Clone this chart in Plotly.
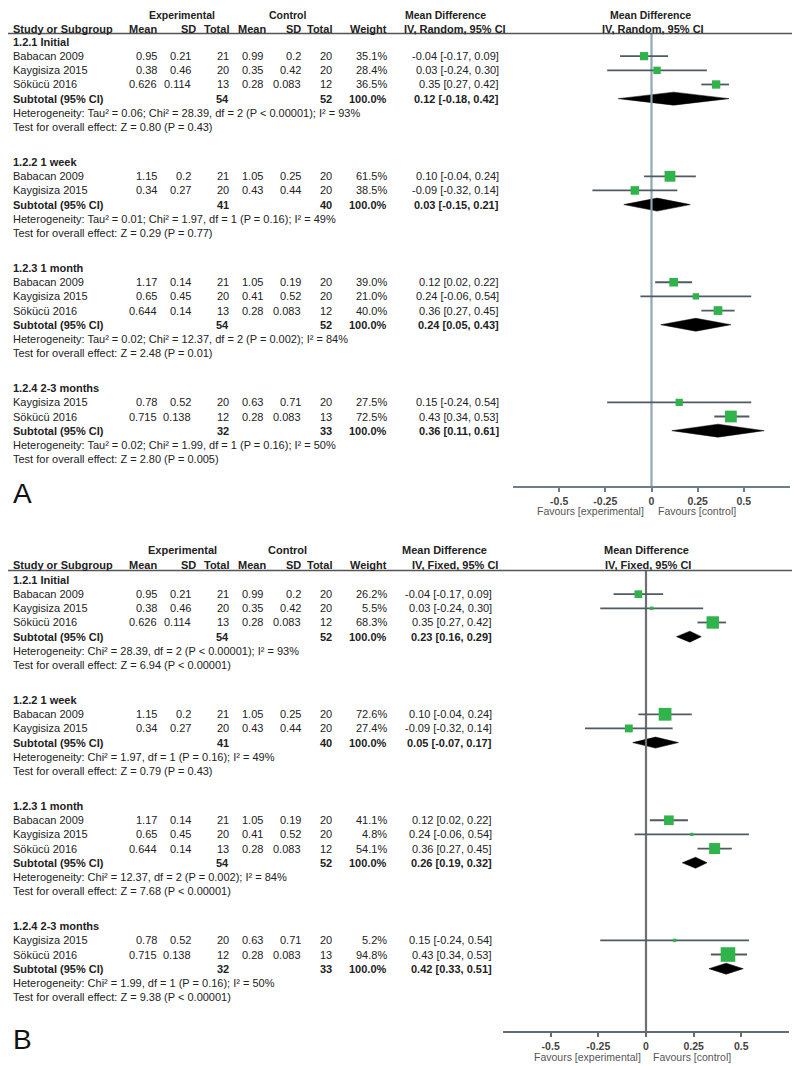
import plotly.graph_objects as go

# ---------------- data ----------------
GROUP_TITLES = ["1.2.1 Initial", "1.2.2 1 week", "1.2.3 1 month", "1.2.4 2-3 months"]
STUDY_GROUP = [0, 0, 0, 1, 1, 2, 2, 2, 3, 3]
STUDY_NAMES = ["Babacan 2009", "Kaygisiza 2015", "Sökücü 2016",
               "Babacan 2009", "Kaygisiza 2015",
               "Babacan 2009", "Kaygisiza 2015", "Sökücü 2016",
               "Kaygisiza 2015", "Sökücü 2016"]
EXP_MEAN = [0.95, 0.38, 0.626, 1.15, 0.34, 1.17, 0.65, 0.644, 0.78, 0.715]
EXP_SD = [0.21, 0.46, 0.114, 0.2, 0.27, 0.14, 0.45, 0.14, 0.52, 0.138]
EXP_N = [21, 20, 13, 21, 20, 21, 20, 13, 20, 12]
CTL_MEAN = [0.99, 0.35, 0.28, 1.05, 0.43, 1.05, 0.41, 0.28, 0.63, 0.28]
CTL_SD = [0.2, 0.42, 0.083, 0.25, 0.44, 0.19, 0.52, 0.083, 0.71, 0.083]
CTL_N = [20, 20, 12, 20, 20, 20, 20, 12, 20, 13]
MD = [-0.04, 0.03, 0.35, 0.10, -0.09, 0.12, 0.24, 0.36, 0.15, 0.43]
MD_LO = [-0.17, -0.24, 0.27, -0.04, -0.32, 0.02, -0.06, 0.27, -0.24, 0.34]
MD_HI = [0.09, 0.30, 0.42, 0.24, 0.14, 0.22, 0.54, 0.45, 0.54, 0.53]
WEIGHT_RANDOM = [35.1, 28.4, 36.5, 61.5, 38.5, 39.0, 21.0, 40.0, 27.5, 72.5]
WEIGHT_FIXED = [26.2, 5.5, 68.3, 72.6, 27.4, 41.1, 4.8, 54.1, 5.2, 94.8]

SUB_EXP_N = [54, 41, 54, 32]
SUB_CTL_N = [52, 40, 52, 33]
SUB_RANDOM_MD = [0.12, 0.03, 0.24, 0.36]
SUB_RANDOM_LO = [-0.18, -0.15, 0.05, 0.11]
SUB_RANDOM_HI = [0.42, 0.21, 0.43, 0.61]
SUB_FIXED_MD = [0.23, 0.05, 0.26, 0.42]
SUB_FIXED_LO = [0.16, -0.07, 0.19, 0.33]
SUB_FIXED_HI = [0.29, 0.17, 0.32, 0.51]

TAU2 = ["0.06", "0.01", "0.02", "0.02"]
CHI2 = ["28.39", "1.97", "12.37", "1.99"]
DF = [2, 1, 2, 1]
HET_P = ["&lt; 0.00001", "= 0.16", "= 0.002", "= 0.16"]
I2 = [93, 49, 84, 50]
Z_RANDOM = ["0.80", "0.29", "2.48", "2.80"]
P_RANDOM = ["= 0.43", "= 0.77", "= 0.01", "= 0.005"]
Z_FIXED = ["6.94", "0.79", "7.68", "9.38"]
P_FIXED = ["&lt; 0.00001", "= 0.43", "&lt; 0.00001", "&lt; 0.00001"]

TICK_VALUES = [-0.5, -0.25, 0, 0.25, 0.5]
TICK_LABELS = ["-0.5", "-0.25", "0", "0.25", "0.5"]

# ---------------- layout constants ----------------
PAGE_MARGIN = 8          # default body margin of the html page
W, H = 800 - PAGE_MARGIN, 1066 - PAGE_MARGIN
ROW = 14.16
GAP = 21.0
FONT = "Liberation Sans, Arial, sans-serif"
FS = 11
TXT = "#222222"
GREEN = "#2fb34a"


def px_x(x):
    return (x - PAGE_MARGIN) / W


def px_y(y):
    return 1 - (y - PAGE_MARGIN) / H


fig = go.Figure()
annotations = []
shapes = []


def ann(x, y, text, anchor="left", size=FS, bold=False, color=TXT):
    annotations.append(dict(
        x=px_x(x), y=px_y(y), xref="paper", yref="paper",
        text=("<b>%s</b>" % text) if bold else text,
        showarrow=False, xanchor=anchor, yanchor="middle", borderpad=0,
        font=dict(family=FONT, size=size, color=color)))


def draw_panel(cfg):
    top = cfg["top"]
    xa, ya = cfg["xaxis"], cfg["yaxis"]
    cols = dict(name=12, em=158, esd=192, en=230, cm=264, csd=302, cn=333, w=388, eff=cfg["eff_x"])
    # headers
    h1 = top - cfg["h1_off"]
    hy = top - cfg["h2_off"]
    hs = cfg["h1_size"]
    ann(182, h1, "Experimental", "center", size=hs, bold=True)
    ann(287, h1, "Control", "center", size=hs, bold=True)
    ann(cols["name"], hy, "Study or Subgroup", "left", bold=True)
    ann(cols["em"], hy, "Mean", "right", bold=True)
    ann(197, hy, "SD", "right", bold=True)
    ann(cols["en"], hy, "Total", "right", bold=True)
    ann(267, hy, "Mean", "right", bold=True)
    ann(cols["csd"], hy, "SD", "right", bold=True)
    ann(cols["cn"], hy, "Total", "right", bold=True)
    ann(cols["w"], hy, "Weight", "right", bold=True)
    ann(cfg["md_c1"], h1, "Mean Difference", "center", size=hs, bold=True)
    ann(cfg["md_c2"], hy, cfg["method"], "center", bold=True)
    ann(cfg["pl_c1"], h1, "Mean Difference", "center", size=hs, bold=True)
    ann(cfg["pl_c2"], hy, cfg["method"], "center", bold=True)
    line_y = top - cfg["line_off"]
    shapes.append(dict(type="line", xref="paper", yref="paper", x0=px_x(4), x1=1,
                       y0=px_y(line_y), y1=px_y(line_y),
                       line=dict(color="#555555", width=1.6)))

    ci_x, ci_y = [], []
    sq_x, sq_y, sq_s = [], [], []
    y = top
    weights = cfg["weights"]
    for g, title in enumerate(GROUP_TITLES):
        ann(cols["name"], y, title, "left", bold=True)
        idx = [i for i, gg in enumerate(STUDY_GROUP) if gg == g]
        for k, i in enumerate(idx):
            yy = y + ROW * (k + 1)
            ann(cols["name"], yy, STUDY_NAMES[i])
            ann(cols["em"], yy, str(EXP_MEAN[i]), "right")
            ann(cols["esd"], yy, str(EXP_SD[i]), "right")
            ann(cols["en"], yy, str(EXP_N[i]), "right")
            ann(cols["cm"], yy, str(CTL_MEAN[i]), "right")
            ann(cols["csd"], yy, str(CTL_SD[i]), "right")
            ann(cols["cn"], yy, str(CTL_N[i]), "right")
            ann(cols["w"], yy, "%.1f%%" % weights[i], "right")
            ann(cols["eff"], yy, "%.2f [%.2f, %.2f]" % (MD[i], MD_LO[i], MD_HI[i]), "right")
            ci_x += [MD_LO[i], MD_HI[i], None]
            ci_y += [yy, yy, None]
            sq_x.append(MD[i])
            sq_y.append(yy)
            sq_s.append(cfg["sq_k"] * weights[i] ** 0.5)
        n = len(idx)
        sy = y + ROW * (n + 1)
        ann(cols["name"], sy, "Subtotal (95% CI)", "left", bold=True)
        ann(cols["en"], sy, str(SUB_EXP_N[g]), "right", bold=True)
        ann(cols["cn"], sy, str(SUB_CTL_N[g]), "right", bold=True)
        ann(cols["w"], sy, "100.0%", "right", bold=True)
        m, lo, hi = cfg["sub_md"][g], cfg["sub_lo"][g], cfg["sub_hi"][g]
        ann(cols["eff"], sy, "%.2f [%.2f, %.2f]" % (m, lo, hi), "right", bold=True)
        d = cfg["dia_h"]
        fig.add_trace(go.Scatter(x=[lo, m, hi, m, lo], y=[sy, sy - d, sy, sy + d, sy],
                                 xaxis=xa, yaxis=ya, mode="lines", fill="toself",
                                 fillcolor="#000000", line=dict(color="#000000", width=0.5),
                                 hoverinfo="skip", showlegend=False))
        ann(cols["name"], sy + ROW, cfg["het"][g], "left")
        ann(cols["name"], sy + 2 * ROW, cfg["test"][g], "left")
        y = sy + 2 * ROW + ROW + GAP

    # zero line
    fig.add_trace(go.Scatter(x=[0, 0], y=[line_y, cfg["axis_y"]], xaxis=xa, yaxis=ya,
                             mode="lines", line=dict(color=cfg["zero_col"], width=2.2),
                             hoverinfo="skip", showlegend=False))
    fig.add_trace(go.Scatter(x=ci_x, y=ci_y, xaxis=xa, yaxis=ya, mode="lines",
                             line=dict(color="#4f5b60", width=1.8),
                             hoverinfo="skip", showlegend=False))
    fig.add_trace(go.Scatter(x=sq_x, y=sq_y, xaxis=xa, yaxis=ya, mode="markers",
                             marker=dict(symbol="square", size=sq_s, color=GREEN, opacity=1,
                                         line=dict(width=0)),
                             hoverinfo="skip", showlegend=False))
    fy = cfg["axis_y"] + cfg["fav_off"]
    ann(cfg["fav_l"], fy, "Favours [experimental]", "right", size=10.5, color="#555555")
    ann(cfg["fav_r"], fy, "Favours [control]", "left", size=10.5, color="#555555")
    ann(12, cfg["letter_y"], cfg["letter"], "left", size=28, color="#111111")


het_a = ["Heterogeneity: Tau² = %s; Chi² = %s, df = %d (P %s); I² = %d%%" % (TAU2[g], CHI2[g], DF[g], HET_P[g], I2[g])
         for g in range(4)]
het_b = ["Heterogeneity: Chi² = %s, df = %d (P %s); I² = %d%%" % (CHI2[g], DF[g], HET_P[g], I2[g])
         for g in range(4)]
test_a = ["Test for overall effect: Z = %s (P %s)" % (Z_RANDOM[g], P_RANDOM[g]) for g in range(4)]
test_b = ["Test for overall effect: Z = %s (P %s)" % (Z_FIXED[g], P_FIXED[g]) for g in range(4)]

# panel A's top header row sits at the page edge, so panel A is nudged down a little
panel_a = dict(top=42, xaxis="x", yaxis="y", eff_x=500, method="IV, Random, 95% CI",
               h1_off=27.5, h2_off=13.5, h1_size=10.5, line_off=8.5,
               md_c1=446, md_c2=455, pl_c1=650, pl_c2=653,
               weights=WEIGHT_RANDOM, sq_k=1.38,
               sub_md=SUB_RANDOM_MD, sub_lo=SUB_RANDOM_LO, sub_hi=SUB_RANDOM_HI, dia_h=6.5,
               het=het_a, test=test_a, axis_y=486, zero_col="#8ea8b6",
               fav_off=25, fav_l=645, fav_r=657, letter="A", letter_y=494)
panel_b = dict(top=580, xaxis="x2", yaxis="y2", eff_x=493, method="IV, Fixed, 95% CI",
               h1_off=30, h2_off=15, h1_size=FS, line_off=9.5,
               md_c1=444, md_c2=455, pl_c1=646, pl_c2=648,
               weights=WEIGHT_FIXED, sq_k=1.5,
               sub_md=SUB_FIXED_MD, sub_lo=SUB_FIXED_LO, sub_hi=SUB_FIXED_HI, dia_h=5.5,
               het=het_b, test=test_b, axis_y=1031, zero_col="#6b7075",
               fav_off=26, fav_l=642, fav_r=652, letter="B", letter_y=1039)

draw_panel(panel_a)
draw_panel(panel_b)


def xaxis_cfg(dom, anchor, color):
    return dict(domain=[px_x(dom[0]), px_x(dom[1])], range=[-0.75, 0.75], anchor=anchor,
                side="bottom", showline=True, linecolor=color, linewidth=2,
                showgrid=False, zeroline=False, ticks="outside", ticklen=4, tickwidth=2,
                tickcolor=color, tickvals=TICK_VALUES,
                ticktext=["<b>%s</b>" % t for t in TICK_LABELS],
                tickfont=dict(family=FONT, size=10.5, color="#444444"), fixedrange=True)


# panel A spans screen rows 8..486, panel B 543..1031 (y axis units are screen rows)
A_TOP, A_BOT = 8, panel_a["axis_y"]
B_TOP, B_BOT = 543, panel_b["axis_y"]

fig.update_layout(
    width=W, height=H, margin=dict(l=0, r=0, t=0, b=0),
    paper_bgcolor="white", plot_bgcolor="rgba(0,0,0,0)",
    xaxis=xaxis_cfg((513, 790), "y", "#6d7f88"),
    xaxis2=xaxis_cfg((503, 789), "y2", "#666b70"),
    yaxis=dict(domain=[px_y(A_BOT), px_y(A_TOP)], range=[A_BOT, A_TOP], visible=False,
               fixedrange=True, anchor="x"),
    yaxis2=dict(domain=[px_y(B_BOT), px_y(B_TOP)], range=[B_BOT, B_TOP], visible=False,
                fixedrange=True, anchor="x2"),
    annotations=annotations, shapes=shapes, showlegend=False,
)

fig.write_html("out.html")
